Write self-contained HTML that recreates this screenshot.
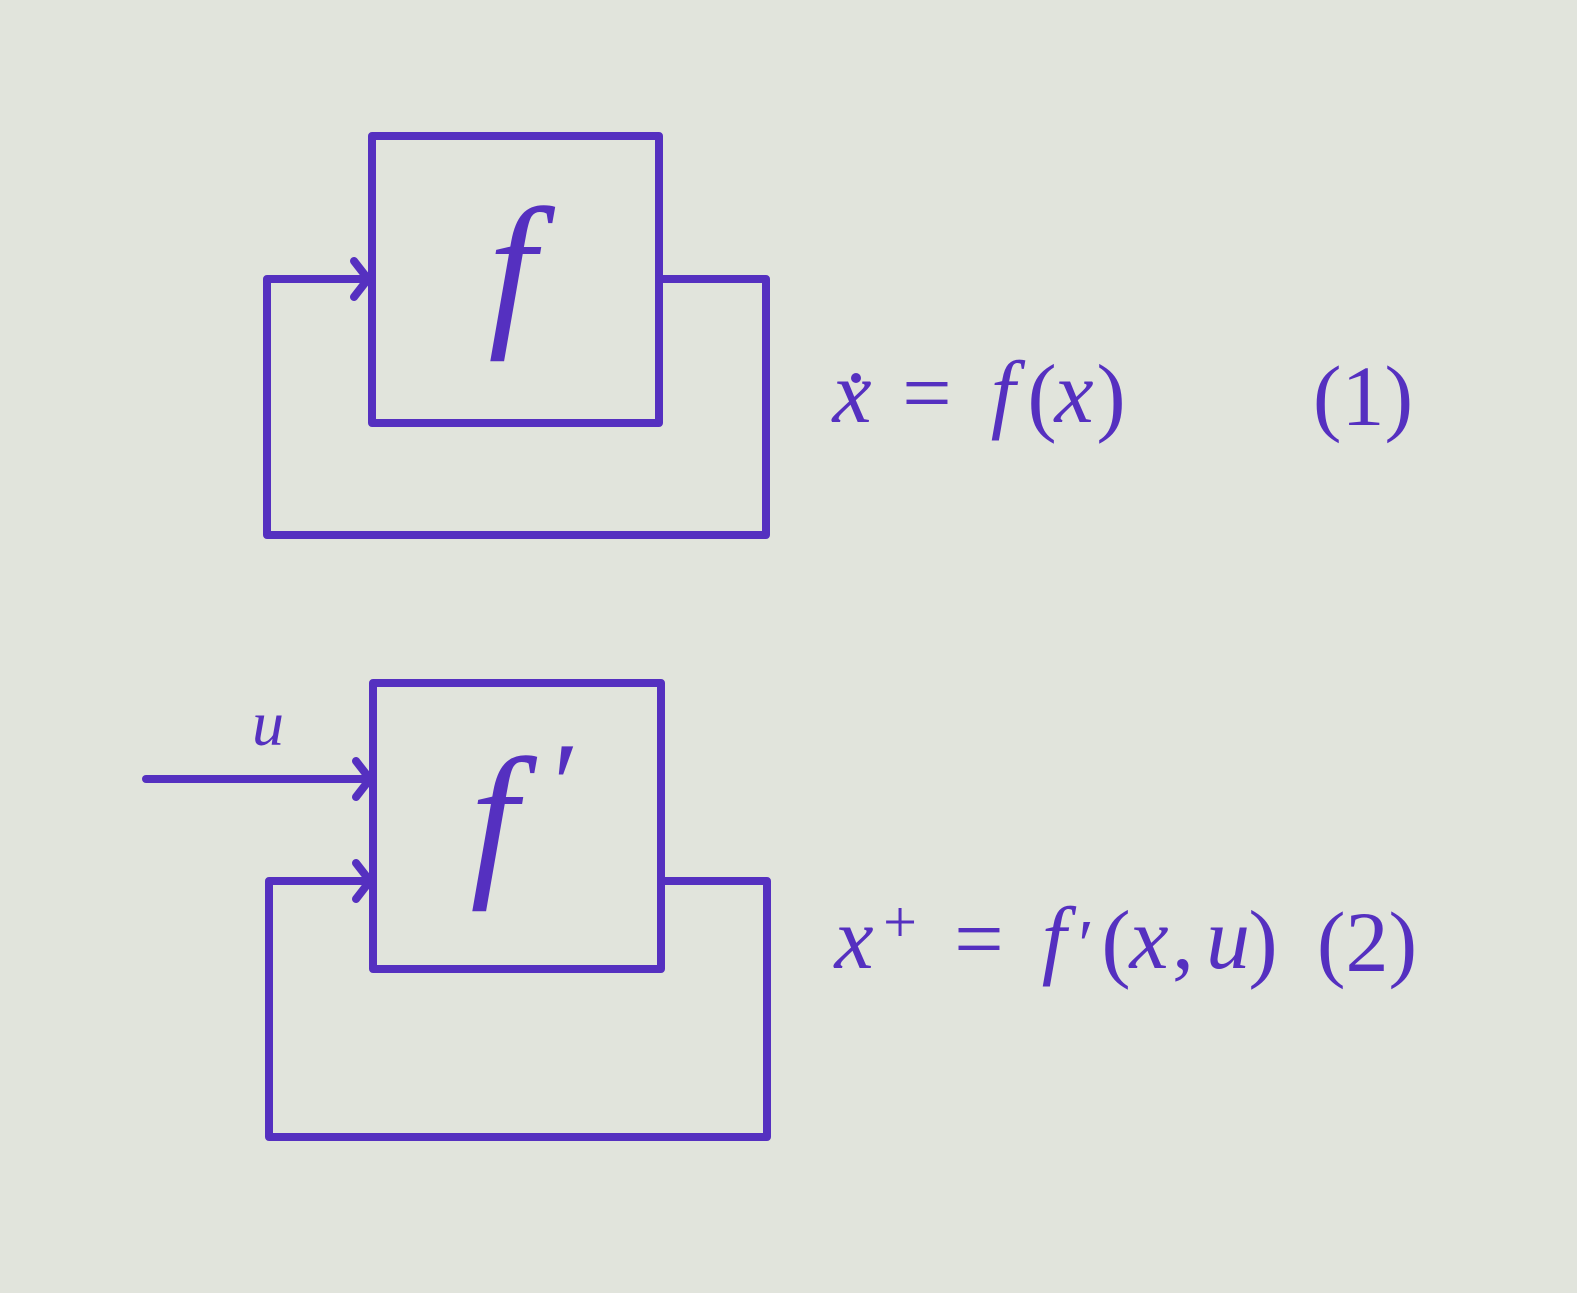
<!DOCTYPE html>
<html><head><meta charset="utf-8"><style>
html,body{margin:0;padding:0;background:#e1e4dc;}
svg{display:block}
text{font-family:"Liberation Serif",serif;fill:#5530c0;}
.i{font-style:italic}
</style></head><body>
<svg width="1577" height="1293" viewBox="0 0 1577 1293">
<rect width="1577" height="1293" fill="#e1e4dc"/>
<g fill="none" stroke="#5530c0" stroke-width="8" stroke-linecap="round" stroke-linejoin="round">
<rect x="372" y="136" width="287" height="287"/>
<polyline points="659,279 766,279 766,535 267,535 267,279 370,279"/>
<polyline points="354,261 368,279 354,297"/>
<rect x="373" y="683" width="288" height="286"/>
<polyline points="661,881 767,881 767,1137 269,1137 269,881 371,881"/>
<polyline points="356,863 370,881 356,899"/>
<line x1="146" y1="779" x2="371" y2="779"/>
<polyline points="356,761 370,779 356,797"/>
</g>
<text x="512" y="325" font-size="170" class="i" text-anchor="middle">f</text>
<text x="494" y="875" font-size="170" class="i" text-anchor="middle">f</text>
<text x="566" y="825" font-size="120" text-anchor="middle">′</text>
<text x="268" y="745" font-size="64" class="i" text-anchor="middle">u</text>
<!-- eq 1 -->
<g font-size="88">
<text x="852" y="422" class="i" text-anchor="middle">x</text>
<circle cx="856" cy="378" r="5" fill="#5530c0"/>
<text x="927" y="422" text-anchor="middle">=</text>
<text x="1003" y="422" class="i" text-anchor="middle">f</text>
<text x="1042" y="425" text-anchor="middle" font-size="88">(</text>
<text x="1074" y="422" class="i" text-anchor="middle">x</text>
<text x="1111" y="425" text-anchor="middle" font-size="88">)</text>
<text x="1363" y="425" text-anchor="middle" font-size="86">(1)</text>
</g>
<!-- eq 2 -->
<g font-size="88">
<text x="854" y="968" class="i" text-anchor="middle">x</text>
<text x="900" y="942" text-anchor="middle" font-size="60">+</text>
<text x="979" y="968" text-anchor="middle">=</text>
<text x="1054" y="968" class="i" text-anchor="middle">f</text>
<text x="1086" y="968" text-anchor="middle" font-size="70">′</text>
<text x="1116" y="971" text-anchor="middle" font-size="88">(</text>
<text x="1149" y="968" class="i" text-anchor="middle">x</text>
<text x="1183" y="968" text-anchor="middle">,</text>
<text x="1228" y="968" class="i" text-anchor="middle">u</text>
<text x="1263" y="971" text-anchor="middle" font-size="88">)</text>
<text x="1367" y="971" text-anchor="middle" font-size="86">(2)</text>
</g>
</svg>
</body></html>
